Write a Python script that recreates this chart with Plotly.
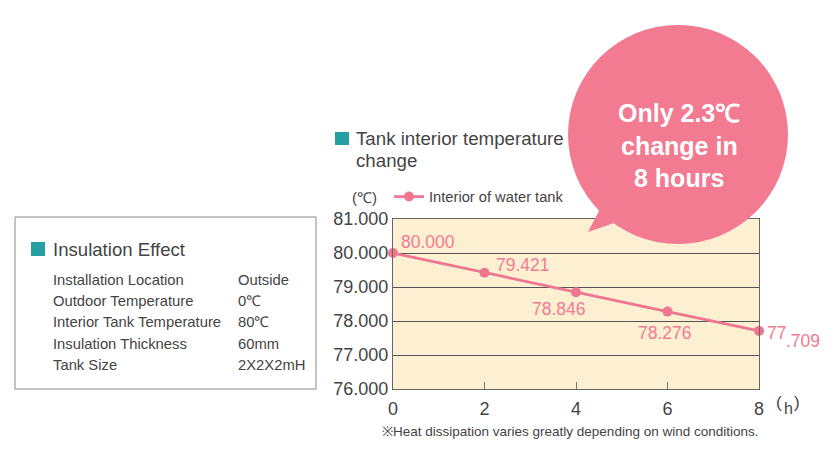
import plotly.graph_objects as go

# ---- data ----
hours = [0, 2, 4, 6, 8]
temps = [80.000, 79.421, 78.846, 78.276, 77.709]
temp_labels = ["80.000", "79.421", "78.846", "78.276", "77.709"]
y_ticks = [76, 77, 78, 79, 80, 81]
y_tick_text = ["76.000", "77.000", "78.000", "79.000", "80.000", "81.000"]
x_ticks = [0, 2, 4, 6, 8]
spec_names = ["Installation Location", "Outdoor Temperature", "Interior Tank Temperature",
              "Insulation Thickness", "Tank Size"]
spec_values = ["Outside", "0℃", "80℃", "60mm", "2X2X2mH"]

W, H = 836, 450
OFF = 8  # page body margin compensation
L, T = 393 - OFF, 219 - OFF
R, B = W - (759 - OFF), H - (389 - OFF)
PW, PH = W - L - R, H - T - B

def px(x):
    return (x - OFF - L) / PW

def py(y):
    return (H - B - (y - OFF)) / PH

PINK = "#F27A91"
LINE = "#EE7690"
TEAL = "#24A0A0"
TXT = "#444444"
FONT = "Liberation Sans, Arial, sans-serif"

fig = go.Figure()
fig.add_trace(go.Scatter(
    x=hours, y=temps, mode="lines+markers", name="Interior of water tank",
    line=dict(color=LINE, width=2.7),
    marker=dict(color=LINE, size=10),
    cliponaxis=False,
))

LBL = 17.5
ann = []
offsets = [("left", 6, 11), ("left", 9, 8), ("right", 12, -17), ("center", -3, -21)]
for i, (xa, xs, ys) in enumerate(offsets):
    ann.append(dict(x=hours[i], y=temps[i], xref="x", yref="y", text=temp_labels[i],
                    showarrow=False, xanchor=xa, yanchor="middle", xshift=xs, yshift=ys,
                    font=dict(size=LBL, color=PINK, family=FONT)))
last = temp_labels[-1].split(".")
ann.append(dict(x=hours[-1], y=temps[-1], xref="x", yref="y", text=last[0],
                showarrow=False, xanchor="left", yanchor="middle", xshift=6, yshift=-2,
                font=dict(size=LBL, color=PINK, family=FONT)))
ann.append(dict(x=hours[-1], y=temps[-1], xref="x", yref="y", text="." + last[1],
                showarrow=False, xanchor="left", yanchor="middle", xshift=25, yshift=-10,
                font=dict(size=LBL, color=PINK, family=FONT)))

def lab(x, y, text, size, anchor="left"):
    shift = -2 if anchor == "left" else 0
    ann.append(dict(x=px(x), y=py(y), xref="paper", yref="paper", text=text, showarrow=False,
                    xanchor=anchor, yanchor="middle", xshift=shift,
                    font=dict(size=size, color=TXT, family=FONT)))

lab(364, 197, "(℃)", 15, "center")
lab(776, 402, "(", 17)
lab(784, 408, "h", 16)
lab(794, 402, ")", 17)
lab(570, 431, "※Heat dissipation varies greatly depending on wind conditions.", 13.5, "center")
lab(356, 138, "Tank interior temperature", 18.7)
lab(356, 160, "change", 18.7)
lab(53, 249, "Insulation Effect", 18.6)
row_y = [280, 301, 322, 344, 365]
for name, val, yy in zip(spec_names, spec_values, row_y):
    lab(53, yy, name, 14.8)
    lab(238, yy, val, 14.8)

for txt, yy in [("Only 2.3℃", 113), ("change in", 146), ("8 hours", 178)]:
    ann.append(dict(x=px(679), y=py(yy), xref="paper", yref="paper", text="<b>" + txt + "</b>",
                    showarrow=False, xanchor="center", yanchor="middle",
                    font=dict(size=25, color="white", family=FONT)))

shapes = [
    dict(type="rect", xref="paper", yref="paper", x0=px(15), x1=px(316), y0=py(217), y1=py(389),
         line=dict(color="#8a8a8a", width=1), fillcolor="rgba(0,0,0,0)", layer="above"),
    dict(type="rect", xref="paper", yref="paper", x0=px(31), x1=px(45), y0=py(242), y1=py(256),
         line=dict(width=0), fillcolor=TEAL),
    dict(type="rect", xref="paper", yref="paper", x0=px(335), x1=px(349), y0=py(132), y1=py(145),
         line=dict(width=0), fillcolor=TEAL),
    dict(type="circle", xref="paper", yref="paper", x0=px(568), x1=px(788), y0=py(244), y1=py(25),
         line=dict(width=0), fillcolor=PINK, layer="above"),
    dict(type="path", xref="paper", yref="paper",
         path="M {} {} L {} {} L {} {} L {} {} Z".format(px(600), py(209), px(588), py(232),
                                                           px(614), py(223), px(632), py(200)),
         line=dict(width=0), fillcolor=PINK, layer="above"),
]

fig.update_layout(
    width=W, height=H,
    margin=dict(l=L, r=R, t=T, b=B, pad=0),
    paper_bgcolor="white",
    plot_bgcolor="#FDF0D2",
    font=dict(family=FONT, color=TXT),
    showlegend=True,
    legend=dict(x=px(389), y=py(197), xanchor="left", yanchor="middle", orientation="h",
                font=dict(size=14.7, color=TXT, family=FONT), bgcolor="rgba(0,0,0,0)",
                itemwidth=30),
    annotations=ann,
    shapes=shapes,
)
fig.update_xaxes(range=[0, 8], tickvals=x_ticks, showgrid=False, zeroline=False,
                 showline=True, mirror=True, linecolor="#666666", linewidth=1.2,
                 ticks="inside", ticklen=7, tickcolor="#777777",
                 tickfont=dict(size=18, color=TXT, family=FONT), ticklabelstandoff=3)
fig.update_yaxes(range=[76, 81], tickvals=y_ticks, ticktext=y_tick_text,
                 showgrid=True, gridcolor="#555555", gridwidth=1, zeroline=False,
                 showline=True, mirror=True, linecolor="#666666", linewidth=1.2,
                 ticks="", tickfont=dict(size=18, color=TXT, family=FONT), ticklabelstandoff=0)

fig.write_html("out.html")
